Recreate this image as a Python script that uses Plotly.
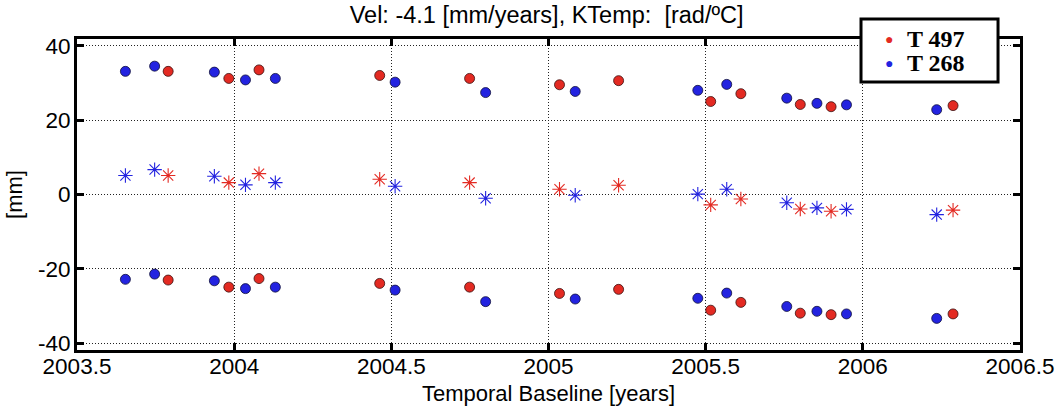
import plotly.graph_objects as go

# T 497 (red)
t497_time = [2003.790, 2003.983, 2004.079, 2004.463, 2004.749, 2005.035, 2005.223,
             2005.516, 2005.612, 2005.801, 2005.899, 2006.287]
t497_top = [33.1, 31.2, 33.5, 32.0, 31.2, 29.5, 30.6, 25.0, 27.1, 24.2, 23.6, 23.9]
t497_mid = [5.1, 3.2, 5.6, 4.1, 3.2, 1.4, 2.5, -2.8, -1.2, -3.9, -4.5, -4.2]
t497_bot = [-23.0, -24.9, -22.6, -23.9, -24.9, -26.6, -25.5, -31.1, -29.0, -31.9, -32.3, -32.1]

# T 268 (blue)
t268_time = [2003.654, 2003.747, 2003.937, 2004.036, 2004.131, 2004.512, 2004.800,
             2005.085, 2005.475, 2005.567, 2005.758, 2005.854, 2005.948, 2006.235]
t268_top = [33.1, 34.5, 32.9, 30.8, 31.2, 30.2, 27.4, 27.7, 28.0, 29.6, 25.9, 24.5, 24.1, 22.8]
t268_mid = [5.1, 6.7, 4.9, 2.6, 3.2, 2.2, -1.0, -0.2, 0.1, 1.4, -2.2, -3.6, -4.0, -5.4]
t268_bot = [-22.8, -21.4, -23.2, -25.3, -24.9, -25.7, -28.8, -28.1, -27.9, -26.5, -30.1, -31.4, -32.1, -33.3]

x_ticks = [2003.5, 2004, 2004.5, 2005, 2005.5, 2006, 2006.5]
x_labels = ["2003.5", "2004", "2004.5", "2005", "2005.5", "2006", "2006.5"]
y_ticks = [-40, -20, 0, 20, 40]
y_labels = ["-40", "-20", "0", "20", "40"]

legend_names = ["T 497", "T 268"]

RED = "#e32a22"
BLUE = "#2323e0"
legend_colors = [RED, BLUE]

SANS = "Liberation Sans, Arial, sans-serif"
SERIF = "Liberation Serif, Times New Roman, serif"

fig = go.Figure()

def dots(x, y, color, name):
    fig.add_trace(go.Scatter(
        x=x, y=y, mode="markers", name=name, showlegend=False,
        marker=dict(symbol="circle", size=10, color=color,
                    line=dict(color="#3a1010" if color == RED else "#10103a", width=0.8)),
    ))

def stars(x, y, color, name):
    fig.add_trace(go.Scatter(
        x=x, y=y, mode="markers", name=name, showlegend=False,
        marker=dict(symbol="asterisk-open", size=12, color=color,
                    line=dict(color=color, width=1.1)),
    ))

dots(t497_time, t497_top, RED, "T 497")
dots(t268_time, t268_top, BLUE, "T 268")
stars(t497_time, t497_mid, RED, "T 497")
stars(t268_time, t268_mid, BLUE, "T 268")
dots(t497_time, t497_bot, RED, "T 497")
dots(t268_time, t268_bot, BLUE, "T 268")

axis_common = dict(
    showline=True, linecolor="black", linewidth=3, mirror="ticks",
    ticks="inside", ticklen=7, tickwidth=3, tickcolor="black",
    showgrid=True, gridcolor="#222", griddash="1px,2px", gridwidth=1,
    zeroline=False, automargin=False,
    tickfont=dict(family=SANS, size=22.5, color="black"),
)

# legend box (boxed key in the top-right corner)
shapes = [dict(type="rect", xref="paper", yref="paper",
               x0=0.8314, x1=0.9767, y0=0.862, y1=1.064,
               fillcolor="white", line=dict(color="black", width=3), layer="above")]
annotations = []
leg_y = [0.999, 0.922]
for name, col, yy in zip(legend_names, legend_colors, leg_y):
    annotations.append(dict(xref="paper", yref="paper", x=0.8615, y=yy,
                            text="●", showarrow=False, xanchor="center", yanchor="middle",
                            font=dict(size=14, color=col)))
    annotations.append(dict(xref="paper", yref="paper", x=0.8776, y=yy,
                            text=f"<b>{name}</b>", showarrow=False,
                            xanchor="left", yanchor="middle",
                            font=dict(family=SERIF, size=24, color="black")))

fig.update_layout(
    width=1058, height=410,
    margin=dict(l=77, r=38, t=39, b=60),
    paper_bgcolor="white", plot_bgcolor="white",
    font=dict(family=SANS, color="black"),
    title=dict(text="Vel: -4.1 [mm/years], KTemp:  [rad/ºC]",
               x=0.498, xref="paper", xanchor="center",
               y=1 - 15 / 410, yref="container", yanchor="middle",
               font=dict(size=23.5, color="black")),
    xaxis=dict(range=[2003.5, 2006.5], tickvals=x_ticks, ticktext=x_labels,
               ticklabelstandoff=-6,
               title=dict(text="Temporal Baseline [years]", standoff=8,
                          font=dict(size=22)),
               **axis_common),
    yaxis=dict(range=[-41.8, 41.8], tickvals=y_ticks, ticktext=y_labels,
               ticklabelstandoff=-1,
               title=dict(text="[mm]", standoff=10, font=dict(size=22)),
               **axis_common),
    shapes=shapes,
    annotations=annotations,
    showlegend=False,
)

fig.write_html("out.html", config={"displayModeBar": False},
               post_script="document.body.style.margin='0';")
